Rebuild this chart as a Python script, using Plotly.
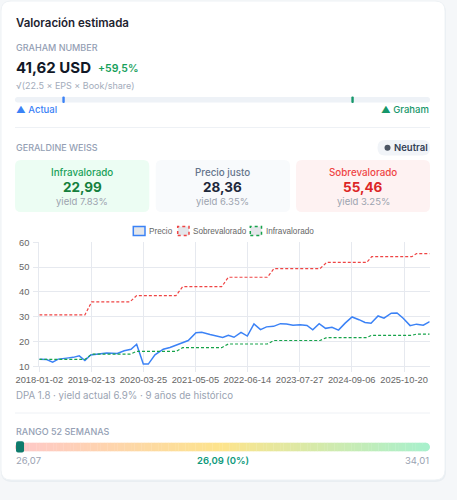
import plotly.graph_objects as go

W, H = 457, 500
UI = "Inter, 'Noto Sans', sans-serif"
CH = "'Liberation Sans', Arial, sans-serif"

# ---------------- data ----------------
price_dates = [
    "2018-01-02", "2018-02-28", "2018-04-16", "2018-05-30", "2018-08-04", "2018-09-24",
    "2018-11-10", "2018-12-24", "2019-02-07", "2019-04-21", "2019-06-12", "2019-09-03",
    "2019-10-27", "2019-12-19", "2020-02-01", "2020-03-24", "2020-05-02", "2020-06-23",
    "2020-08-27", "2020-10-18", "2021-01-04", "2021-03-10", "2021-05-09", "2021-06-23",
    "2021-08-27", "2021-10-18", "2021-12-04", "2022-01-17", "2022-03-02", "2022-04-26",
    "2022-06-14", "2022-08-05", "2022-09-25", "2022-11-11", "2023-01-05", "2023-02-28",
    "2023-04-16", "2023-06-06", "2023-07-31", "2023-09-23", "2023-11-07", "2023-12-27",
    "2024-02-15", "2024-04-05", "2024-05-26", "2024-07-17", "2024-09-09", "2024-11-02",
    "2024-12-19", "2025-02-04", "2025-03-31", "2025-05-16", "2025-07-12", "2025-08-26",
    "2025-10-13", "2025-12-06", "2026-01-25", "2026-03-19", "2026-05-08",
]
price_values = [
    12.8, 12.7, 11.7, 12.9, 13.3, 13.6,
    14.2, 12.3, 14.6, 15.0, 15.4, 15.2,
    16.3, 16.9, 18.9, 10.9, 10.9, 14.6,
    16.9, 17.6, 19.0, 20.4, 23.5, 23.7,
    22.8, 22.3, 21.6, 22.5, 21.7, 23.7,
    22.2, 27.1, 24.8, 25.9, 26.1, 27.2,
    27.1, 26.6, 26.8, 26.5, 24.7, 27.2,
    25.3, 25.7, 24.6, 27.4, 29.9, 28.8,
    27.7, 27.4, 30.3, 29.4, 31.4, 31.5,
    29.4, 26.4, 27.0, 26.6, 28.0,
]
band_dates = [
    "2018-01-02", "2018-12-24", "2019-02-15", "2019-12-11", "2020-02-01", "2020-12-04",
    "2021-01-25", "2021-11-26", "2022-01-17", "2022-11-17", "2023-01-08", "2024-01-03",
    "2024-02-24", "2025-01-01", "2025-02-09", "2025-12-19", "2026-01-26", "2026-05-08",
]
sobre_values = [30.7, 30.7, 36.0, 36.0, 38.5, 38.5, 42.1, 42.1, 45.9, 45.9, 49.4, 49.4,
                51.9, 51.9, 54.2, 54.2, 55.46, 55.46]
infra_values = [12.8, 12.8, 14.9, 14.9, 16.0, 16.0, 17.5, 17.5, 19.0, 19.0, 20.4, 20.4,
                21.6, 21.6, 22.5, 22.5, 22.99, 22.99]
x_tick_dates = ["2018-01-02", "2019-02-13", "2020-03-25", "2021-05-05",
                "2022-06-14", "2023-07-27", "2024-09-06", "2025-10-20"]
y_tick_values = [10, 20, 30, 40, 50, 60]
legend_names = ["Precio", "Sobrevalorado", "Infravalorado"]

gw_labels = ["Infravalorado", "Precio justo", "Sobrevalorado"]
gw_prices = ["22,99", "28,36", "55,46"]
gw_yields = ["yield 7.83%", "yield 6.35%", "yield 3.25%"]

graham_number = 41.62
actual_price = 26.09
range_low, range_high, range_current = 26.07, 34.01, 26.09

# ---------------- helpers ----------------
def fx(p):
    return p / W

def fy(p):
    return 1 - p / H

shapes = []
annotations = []

def rrect(x0, y0, x1, y1, r, fill, line=None, lw=0, dash=None):
    path = (f"M{fx(x0 + r)},{fy(y0)} L{fx(x1 - r)},{fy(y0)} Q{fx(x1)},{fy(y0)} {fx(x1)},{fy(y0 + r)} "
            f"L{fx(x1)},{fy(y1 - r)} Q{fx(x1)},{fy(y1)} {fx(x1 - r)},{fy(y1)} "
            f"L{fx(x0 + r)},{fy(y1)} Q{fx(x0)},{fy(y1)} {fx(x0)},{fy(y1 - r)} "
            f"L{fx(x0)},{fy(y0 + r)} Q{fx(x0)},{fy(y0)} {fx(x0 + r)},{fy(y0)} Z")
    ln = dict(width=lw, color=line if line else "rgba(0,0,0,0)")
    if dash:
        ln["dash"] = dash
    shapes.append(dict(type="path", xref="paper", yref="paper", path=path,
                       fillcolor=fill, line=ln, layer="below"))

def rect(x0, y0, x1, y1, fill, line=None, lw=0, dash=None, layer="below"):
    ln = dict(width=lw, color=line if line else "rgba(0,0,0,0)")
    if dash:
        ln["dash"] = dash
    shapes.append(dict(type="rect", xref="paper", yref="paper",
                       x0=fx(x0), x1=fx(x1), y0=fy(y1), y1=fy(y0),
                       fillcolor=fill, line=ln, layer=layer))

def hline(x0, x1, y, color):
    shapes.append(dict(type="line", xref="paper", yref="paper", x0=fx(x0), x1=fx(x1),
                       y0=fy(y), y1=fy(y), line=dict(color=color, width=1), layer="below"))

def txt(x, y, text, size, color, weight=400, anchor="left", family=UI):
    annotations.append(dict(x=fx(x), y=fy(y), xref="paper", yref="paper", text=text,
                            showarrow=False, xanchor=anchor, yanchor="middle", borderpad=0,
                            font=dict(family=family, size=size, color=color, weight=weight)))

# ---------------- card ----------------
rrect(1, 2, 446, 482, 11, "#e9eef2")
rrect(1, 1, 445, 480, 10, "#ffffff", line="#eef2f5", lw=1)

txt(15, 23, "Valoración estimada", 11.5, "#1e2330", 600)

# Graham
txt(15, 48, "GRAHAM NUMBER", 9, "#94a0b4", 500)
txt(15, 67.5, f"{graham_number:.2f}".replace(".", ",") + " USD", 15, "#111827", 700)
upside = (graham_number / actual_price - 1) * 100
txt(96.5, 68, f"+{upside:.1f}%".replace(".", ","), 10.5, "#16a05a", 600)
txt(15, 86, "√(22.5 × EPS × Book/share)", 9, "#a3acbb")

track_x0, track_x1 = 15, 430
rrect(track_x0, 97, track_x1, 102.5, 2.7, "#eef2f7")
scale_lo = min(actual_price, graham_number) * 0.9
scale_hi = max(actual_price, graham_number) * 1.1
for val, col in [(actual_price, "#3b82f6"), (graham_number, "#16976a")]:
    px = track_x0 + (val - scale_lo) / (scale_hi - scale_lo) * (track_x1 - track_x0)
    rrect(px - 1.2, 96.5, px + 1.2, 103, 1.0, col)
txt(15, 110, "▲ Actual", 9.5, "#3b82f6", 500)
txt(430, 110, "▲ Graham", 9.5, "#16976a", 500, anchor="right")

hline(15, 430, 127.5, "#eef1f5")

# Geraldine Weiss
txt(15, 147, "GERALDINE WEISS", 9, "#94a0b4", 500)
rrect(377.5, 140, 430, 155.5, 7.5, "#f1f4f8")
shapes.append(dict(type="circle", xref="paper", yref="paper", x0=fx(384.5), x1=fx(390.5),
                   y0=fy(150.7), y1=fy(144.7), fillcolor="#4b5563", line=dict(width=0)))
txt(393, 147.5, "Neutral", 9.5, "#334155", 600)

boxes = [(15, 149.3, "#ecfdf3", "#18a058", "#15803d"),
         (155.7, 290, "#f8fafc", "#64748b", "#1e293b"),
         (296, 430, "#fef2f2", "#ef4444", "#dc2626")]
for (x0, x1, bg, lc, vc), lab, pr, yl in zip(boxes, gw_labels, gw_prices, gw_yields):
    rrect(x0, 160, x1, 212, 6, bg)
    cx = (x0 + x1) / 2
    txt(cx, 172, lab, 9.8, lc, 500, anchor="center")
    txt(cx, 186.5, pr, 13.5, vc, 700, anchor="center")
    txt(cx, 201, yl, 9.5, "#9ca3af", 400, anchor="center")

# chart legend (Chart.js style boxes)
leg = [(133.3, 145, "#3b82f6", None, 148),
       (177.7, 189, "#ef4444", "dot", 192),
       (250.3, 261.5, "#16a34a", "dot", 264.5)]
for (x0, x1, col, dash, tx), name in zip(leg, legend_names):
    rect(x0, 226.5, x1, 235.5, "#e4e6ea", line=col, lw=1.5, dash=dash, layer="above")
    txt(tx, 231.5, name, 8.2, "#666666", 400, family=CH)

txt(15, 395.5, "DPA 1.8 · yield actual 6.9% · 9 años de histórico", 9.7, "#9aa3b2")

hline(15, 430, 413, "#eef1f5")

# 52-week range
txt(15, 431, "RANGO 52 SEMANAS", 9, "#94a0b4", 500)
bx0, bx1, by0, by1 = 15, 430, 442.7, 451.3
stops = [(0.0, (254, 200, 200)), (0.5, (253, 228, 140)), (1.0, (168, 240, 204))]

def grad(t):
    for (t0, c0), (t1, c1) in zip(stops[:-1], stops[1:]):
        if t <= t1:
            u = (t - t0) / (t1 - t0)
            return "rgb(%d,%d,%d)" % tuple(round(a + (b - a) * u) for a, b in zip(c0, c1))
    return "rgb(%d,%d,%d)" % stops[-1][1]

rad = (by1 - by0) / 2
shapes.append(dict(type="circle", xref="paper", yref="paper", x0=fx(bx0), x1=fx(bx0 + 2 * rad),
                   y0=fy(by1), y1=fy(by0), fillcolor=grad(0), line=dict(width=0), layer="below"))
shapes.append(dict(type="circle", xref="paper", yref="paper", x0=fx(bx1 - 2 * rad), x1=fx(bx1),
                   y0=fy(by1), y1=fy(by0), fillcolor=grad(1), line=dict(width=0), layer="below"))
nseg = 120
sx0, sx1 = bx0 + rad, bx1 - rad
for i in range(nseg):
    a = sx0 + (sx1 - sx0) * i / nseg
    b = sx0 + (sx1 - sx0) * (i + 1) / nseg + 0.3
    rect(a, by0, min(b, sx1), by1, grad((i + 0.5) / nseg))
mk_w = 8
frac = (range_current - range_low) / (range_high - range_low)
mx0 = bx0 + frac * (bx1 - bx0 - mk_w)
rrect(mx0, 441.3, mx0 + mk_w, 452.5, 2, "#0f7b6c")
txt(15, 460.5, f"{range_low:.2f}".replace(".", ","), 9.5, "#9aa3b2")
txt(222.5, 460.5, f"{range_current:.2f}".replace(".", ",") + f" ({frac*100:.0f}%)", 9.5, "#0f9a7c", 600, anchor="center")
txt(430, 460.5, f"{range_high:.2f}".replace(".", ","), 9.5, "#9aa3b2", anchor="right")

# ---------------- chart ----------------
fig = go.Figure()
fig.add_trace(go.Scatter(x=price_dates, y=price_values, mode="lines", name=legend_names[0],
                         line=dict(color="#3b82f6", width=1.5)))
fig.add_trace(go.Scatter(x=band_dates, y=sobre_values, mode="lines", name=legend_names[1],
                         line=dict(color="#ef4444", width=1.2, dash="3px,2px")))
fig.add_trace(go.Scatter(x=band_dates, y=infra_values, mode="lines", name=legend_names[2],
                         line=dict(color="#16a34a", width=1.2, dash="3px,2px")))

GRID = "#e6e9ef"
fig.update_layout(
    width=W, height=H,
    margin=dict(l=0, r=0, t=0, b=0),
    paper_bgcolor="#f5f7f9",
    plot_bgcolor="rgba(0,0,0,0)",
    showlegend=False,
    shapes=shapes,
    annotations=annotations,
    xaxis=dict(domain=[fx(39.3), fx(429.7)], type="date",
               range=[price_dates[0], price_dates[-1]],
               tickvals=x_tick_dates, ticktext=x_tick_dates,
               showgrid=True, gridcolor=GRID, gridwidth=1,
               showline=True, linecolor=GRID, zeroline=False,
               ticks="outside", ticklen=5, tickcolor=GRID,
               tickfont=dict(family=CH, size=9.3, color="#666666"), automargin=False),
    yaxis=dict(domain=[fy(366.3), fy(242.3)], range=[10, 60],
               tickvals=y_tick_values,
               showgrid=True, gridcolor=GRID, gridwidth=1,
               showline=True, linecolor=GRID, zeroline=False,
               ticks="outside", ticklen=5, tickcolor=GRID, ticklabelstandoff=2,
               tickfont=dict(family=CH, size=9.3, color="#666666"), automargin=False),
)

fig.write_html("out.html")
